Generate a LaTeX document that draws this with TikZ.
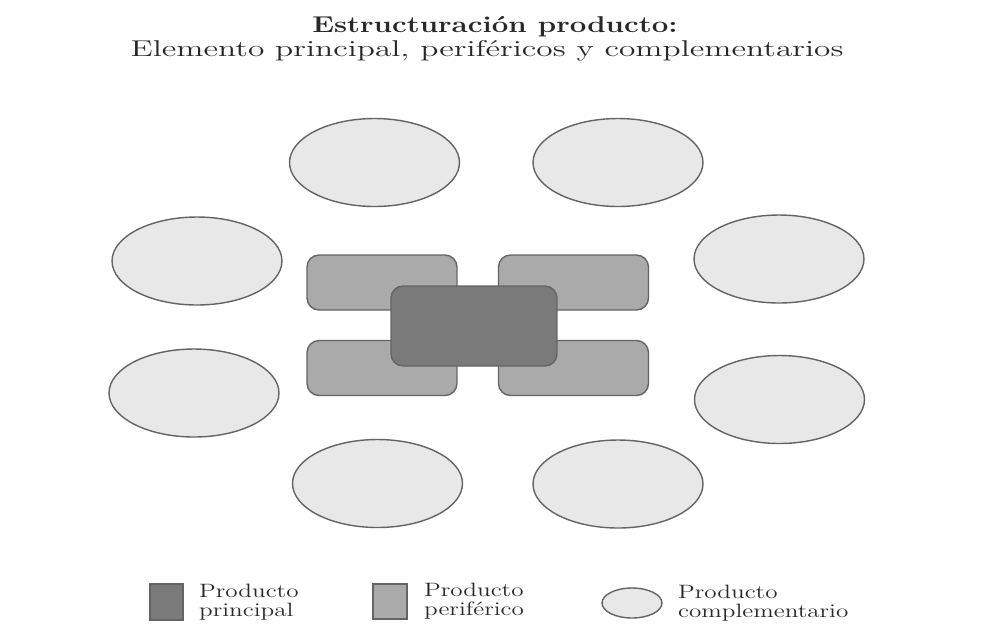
\documentclass[tikz,border=0pt]{standalone}
\usepackage{xcolor}
\usepackage{tikz}
\usetikzlibrary{
    positioning,
    shapes.geometric
}
\definecolor{princGray}{RGB}{122, 122, 122}
\definecolor{periGray}{RGB}{170, 170, 170}
\definecolor{compGray}{RGB}{232, 232, 232}
\definecolor{lineGray}{RGB}{100, 100, 100}
\definecolor{inkGray}{RGB}{40, 40, 40}

\begin{document}
\begin{tikzpicture}[x=0.02cm, y=-0.02cm,
        principal/.style={draw=lineGray, line width=0.8pt, fill=princGray,
            rounded corners=0.24cm, inner sep=0pt,
            minimum width=3.32cm, minimum height=1.6cm},
        periferico/.style={draw=lineGray, line width=0.8pt, fill=periGray,
            rounded corners=0.24cm, inner sep=0pt,
            minimum width=3cm, minimum height=1.1cm},
        complementario/.style={ellipse, draw=lineGray, line width=0.8pt,
            fill=compGray, inner sep=0pt,
            minimum width=3.4cm, minimum height=1.76cm},
        leyenda/.style={font=\fontsize{11}{10.8}\selectfont, text=inkGray,
            align=left, inner sep=0pt, xscale=1.3}]
            \useasboundingbox[fill=white] (0,0) rectangle (981,637);

            % titulo
            \node[anchor=base, text=inkGray, xscale=1.29, inner sep=0pt,
                font=\fontsize{13}{13}\selectfont\bfseries] (T1) at (495,32)
                {Estructuración producto:};
            \node[anchor=base, text=inkGray, xscale=1.46, inner sep=0pt,
                font=\fontsize{13}{13}\selectfont] (T2) at (487,56)
                {Elemento principal, periféricos y complementarios};

            % productos complementarios
            \node[complementario] (C1) at (374.5,162.5) {};
            \node[complementario] (C2) at (618,162.5) {};
            \node[complementario] (C3) at (197,261) {};
            \node[complementario] (C4) at (779,259) {};
            \node[complementario] (C5) at (194,393) {};
            \node[complementario] (C6) at (779.5,399.5) {};
            \node[complementario] (C7) at (377.5,483.5) {};
            \node[complementario] (C8) at (618,484) {};

            % productos perifericos y principal
            \node[periferico] (P1) at (382,282.5) {};
            \node[periferico] (P2) at (573.5,282.5) {};
            \node[periferico] (P3) at (382,368) {};
            \node[periferico] (P4) at (573.5,368) {};
            \node[principal] (P) at (474,326) {};

            % leyenda
            \node[draw=lineGray, line width=0.8pt, fill=princGray, inner sep=0pt,
                minimum width=0.66cm, minimum height=0.72cm] (LP) at (166.5,602) {};
            \node[draw=lineGray, line width=0.8pt, fill=periGray, inner sep=0pt,
                minimum width=0.68cm, minimum height=0.7cm] (LF) at (390,601.5) {};
            \node[ellipse, draw=lineGray, line width=0.8pt, fill=compGray, inner sep=0pt,
                minimum width=1.2cm, minimum height=0.6cm] (LC) at (632,603) {};
            \node[leyenda, right=0.3cm of LP] (LPt) {Producto\\principal};
            \node[leyenda, right=0.32cm of LF] (LFt) {Producto\\periférico};
            \node[leyenda, right=0.3cm of LC] (LCt) {Producto\\complementario};
        \end{tikzpicture}
\end{document}
